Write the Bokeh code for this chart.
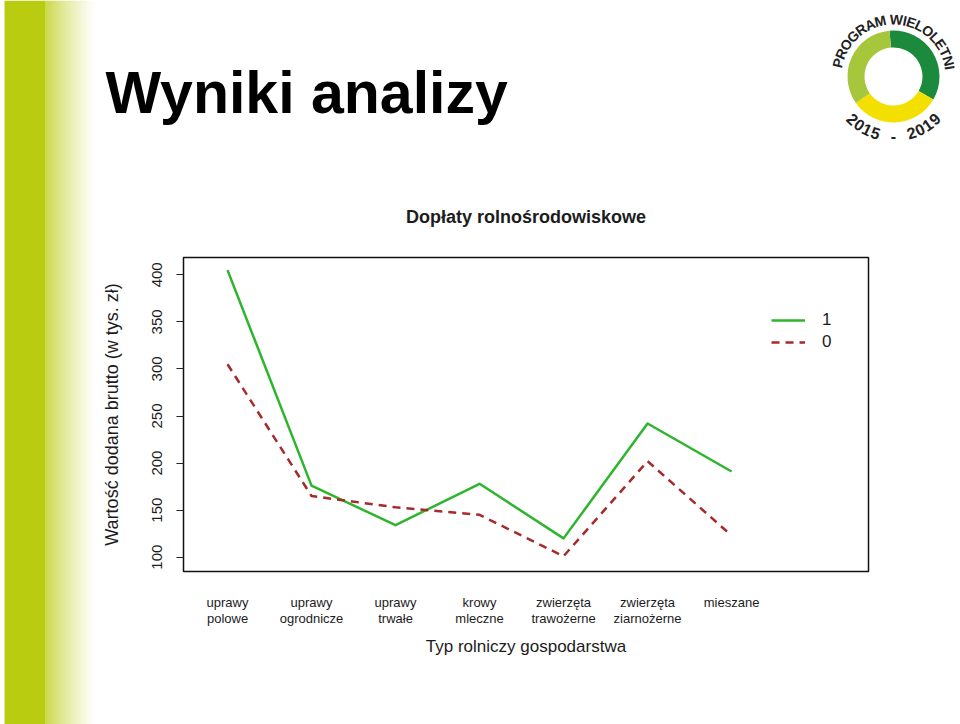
import numpy as np
from bokeh.plotting import figure
from bokeh.layouts import row, column
from bokeh.models import Range1d, LinearAxis, FixedTicker, Legend, LegendItem
from bokeh.core.properties import value
from bokeh.embed import file_html
from bokeh.resources import INLINE

# ---------------- data ----------------
categories = ["uprawy\npolowe", "uprawy\nogrodnicze", "uprawy\ntrwałe", "krowy\nmleczne",
              "zwierzęta\ntrawożerne", "zwierzęta\nziarnożerne", "mieszane"]
x_pos = [1, 2, 3, 4, 5, 6, 7]
series_1 = [405, 176, 134, 178, 120, 242, 191]
series_0 = [305, 165, 153, 145, 101, 202, 123]
y_ticks = [100, 150, 200, 250, 300, 350, 400]
legend_labels = ["1", "0"]

# ---------------- layout constants ----------------
W, H = 960, 724
SW = 95            # width of the left stripe panel
TH = 160           # height of the top (slide title) panel
FL, FR, FT, FB = 183, 868, 257, 571   # frame of the chart on the page
FONT = "Liberation Sans"
TXT = "#1c1c1c"

# ---------------- main chart ----------------
p = figure(width=W - SW, height=H - TH, output_backend="svg", toolbar_location=None,
           x_range=Range1d(0.476, 8.63), y_range=Range1d(84.8, 418.4),
           min_border_left=FL - SW, min_border_right=W - FR,
           min_border_top=FT - TH, min_border_bottom=H - FB,
           x_axis_location=None, y_axis_location=None)
p.grid.visible = False
p.background_fill_color = "white"
p.border_fill_color = "white"
p.outline_line_color = "#111111"
p.outline_line_width = 1.5

p.title.text = "Dopłaty rolnośrodowiskowe"
p.title.align = "center"
p.title.text_font = FONT
p.title.text_font_size = "18px"
p.title.text_font_style = "bold"
p.title.text_color = TXT
p.title.standoff = 62

yax = LinearAxis(ticker=FixedTicker(ticks=y_ticks),
                 axis_label="Wartość dodana brutto (w tys. zł)")
yax.axis_line_color = None
yax.major_tick_in = 0
yax.major_tick_out = 7
yax.major_tick_line_color = "#222222"
yax.minor_tick_line_color = None
yax.major_label_orientation = "vertical"
yax.major_label_standoff = 14
yax.major_label_text_font = FONT
yax.major_label_text_font_size = "15px"
yax.major_label_text_color = TXT
yax.axis_label_text_font = FONT
yax.axis_label_text_font_size = "18px"
yax.axis_label_text_font_style = "normal"
yax.axis_label_text_color = TXT
yax.axis_label_standoff = 28
p.add_layout(yax, "left")

xax = LinearAxis(ticker=FixedTicker(ticks=x_pos),
                 major_label_overrides={x: c for x, c in zip(x_pos, categories)},
                 axis_label="Typ rolniczy gospodarstwa")
xax.axis_line_color = None
xax.major_tick_line_color = None
xax.minor_tick_line_color = None
xax.major_tick_in = 0
xax.major_tick_out = 0
xax.major_label_standoff = 23
xax.major_label_text_font = FONT
xax.major_label_text_font_size = "13px"
xax.major_label_text_line_height = 1.1
xax.major_label_text_color = TXT
xax.axis_label_text_font = FONT
xax.axis_label_text_font_size = "17px"
xax.axis_label_text_font_style = "normal"
xax.axis_label_text_color = TXT
xax.axis_label_standoff = 8
p.add_layout(xax, "below")

r1 = p.line(x_pos, series_1, line_color="#2eb52e", line_width=2.5, line_join="round")
r0 = p.line(x_pos, series_0, line_color="#a52a2a", line_width=2.5, line_dash="8 6",
            line_join="round")

legend = Legend(items=[LegendItem(label=legend_labels[0], renderers=[r1]),
                       LegendItem(label=legend_labels[1], renderers=[r0])],
                location=(588, 219), padding=0, margin=0, spacing=2,
                glyph_width=34, glyph_height=20, label_height=20,
                label_standoff=17, border_line_color=None,
                background_fill_alpha=0)
legend.label_text_font = FONT
legend.label_text_font_size = "17px"
legend.label_text_color = TXT
p.add_layout(legend)

# ---------------- left gradient stripe ----------------
s = figure(width=SW, height=H, output_backend="svg", toolbar_location=None,
           x_range=Range1d(0, SW), y_range=Range1d(0, H), min_border=0,
           x_axis_location=None, y_axis_location=None)
s.grid.visible = False
s.outline_line_color = None
s.background_fill_color = "white"
s.border_fill_color = "white"
base = np.array([185, 204, 16])
lefts, rights, cols = [4], [45], ["#b9cc10"]
n = 50
for i in range(n):
    f = (i + 0.5) / n
    c = base * (1 - f) ** 1.2 + np.array([255, 255, 255]) * (1 - (1 - f) ** 1.2)
    lefts.append(45 + i)
    rights.append(46 + i)
    cols.append("#%02x%02x%02x" % tuple(int(round(v)) for v in c))
s.quad(left=lefts, right=rights, bottom=0, top=H, fill_color=cols, line_color=None)

# ---------------- top panel: slide title + logo ----------------
t = figure(width=W - SW, height=TH, output_backend="svg", toolbar_location=None,
           x_range=Range1d(SW, W), y_range=Range1d(0, TH), min_border=0,
           x_axis_location=None, y_axis_location=None)
t.grid.visible = False
t.outline_line_color = None
t.background_fill_color = "white"
t.border_fill_color = "white"
t.text(x=[105], y=[TH - 92], text=["Wyniki analizy"], text_font=value(FONT),
       text_font_size="59px", text_font_style="bold", text_color="#000000",
       text_baseline="alphabetic", text_align="left")

CX, CY, RO, RI = 893, TH - 76, 46, 29
t.annular_wedge(x=[CX] * 3, y=[CY] * 3, inner_radius=RI, outer_radius=RO,
                start_angle=[-30, -145, 95], end_angle=[95, -30, 215],
                start_angle_units="deg", end_angle_units="deg",
                fill_color=["#1c8a3c", "#f4e000", "#a6c63b"], line_color=None)

# curved logo text, letters spaced by their approximate bold widths
bold_w = {"P": .667, "R": .722, "O": .778, "G": .778, "A": .722, "M": .833, " ": .278,
          "W": .944, "I": .278, "E": .667, "L": .611, "T": .611, "N": .722}
top_txt = "PROGRAM WIELOLETNI"
fs_top, r_top = 14, 57
adv = np.array([bold_w[c] for c in top_txt]) * fs_top
centers = np.cumsum(adv) - adv / 2
span = adv.sum()
a_top = np.radians(89) - (centers - span / 2) / r_top
t.text(x=CX + r_top * np.cos(a_top), y=CY + r_top * np.sin(a_top), text=list(top_txt),
       angle=a_top - np.pi / 2, text_align="center", text_baseline="middle",
       text_font=value(FONT), text_font_size=f"{fs_top}px", text_font_style="bold",
       text_color="#222222")
bot_txt = "2015 - 2019"
a_bot = np.radians(226 + np.arange(len(bot_txt)) * (88 / (len(bot_txt) - 1)))
t.text(x=CX + 59 * np.cos(a_bot), y=CY + 59 * np.sin(a_bot), text=list(bot_txt),
       angle=a_bot + np.pi / 2, text_align="center", text_baseline="middle",
       text_font=value(FONT), text_font_size="16px", text_font_style="bold",
       text_color="#222222")

layout = row(s, column(row(t), row(p)))
open("out.html", "w").write(file_html(layout, INLINE))
